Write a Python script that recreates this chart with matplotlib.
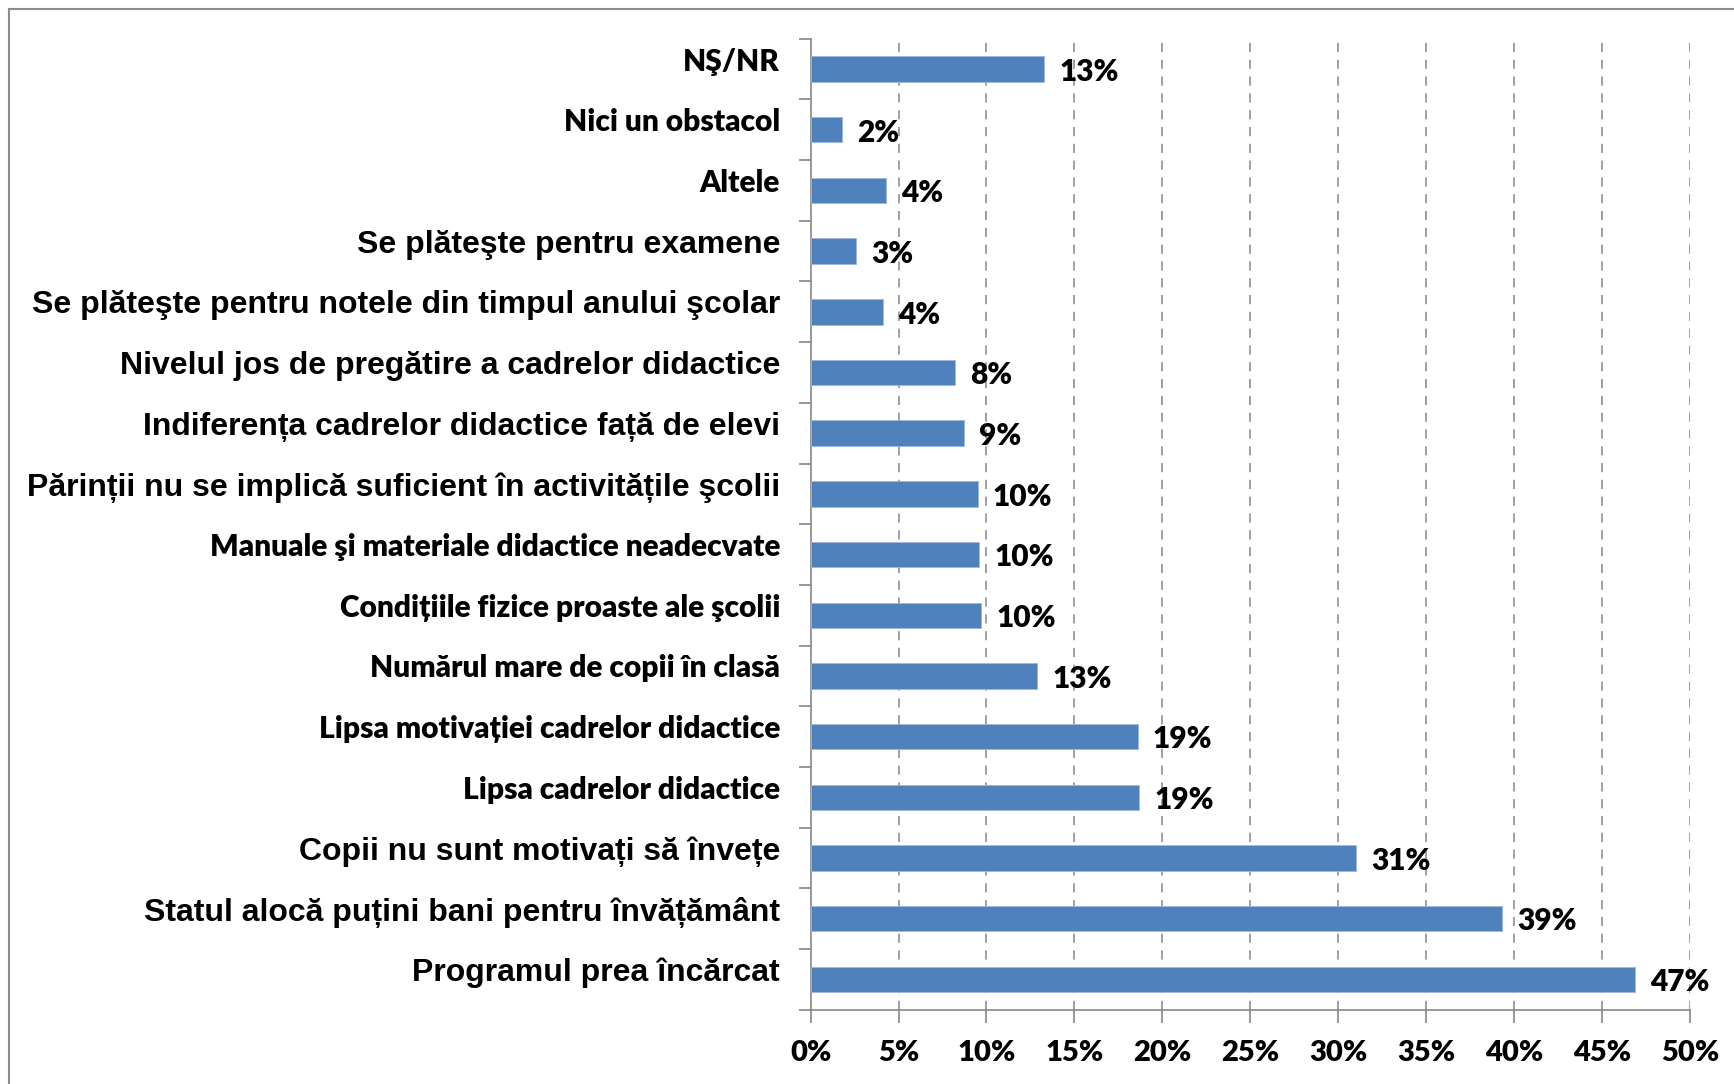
#!/usr/bin/env python3
"""Horizontal bar chart: obstacles in the education system (share of respondents)."""

import matplotlib
matplotlib.use("Agg")
import matplotlib.pyplot as plt
import matplotlib.transforms as mtransforms
from matplotlib.lines import Line2D
from matplotlib.ticker import FixedLocator, FuncFormatter

# categories, top to bottom as in the chart
categories = [
    "NŞ/NR",
    "Nici un obstacol",
    "Altele",
    "Se plăteşte pentru examene",
    "Se plăteşte pentru notele din timpul anului şcolar",
    "Nivelul jos de pregătire a cadrelor didactice",
    "Indiferența cadrelor didactice față de elevi",
    "Părinții nu se implică suficient în activitățile şcolii",
    "Manuale şi materiale didactice neadecvate",
    "Condițiile fizice proaste ale şcolii",
    "Numărul mare de copii în clasă",
    "Lipsa motivației cadrelor didactice",
    "Lipsa cadrelor didactice",
    "Copii nu sunt motivați să învețe",
    "Statul alocă puțini bani pentru învățământ",
    "Programul prea încărcat",
]
values = [13.3, 1.8, 4.3, 2.6, 4.1, 8.2, 8.7, 9.5, 9.6, 9.7, 12.9, 18.6, 18.7, 31.0, 39.3, 46.9]
x_ticks = [0, 5, 10, 15, 20, 25, 30, 35, 40, 45, 50]

# labels that the source draws in the larger Arial-like face
wide_labels = {3, 4, 5, 6, 7, 13, 14, 15}

BAR = "#4F81BD"
GRID = "#868686"
ARIAL = ["Liberation Sans", "DejaVu Sans"]
HUMAN = ["Lato", "DejaVu Sans"]

fig = plt.figure(figsize=(17.34, 10.84), dpi=100)
ax = fig.add_axes([0.4675, 0.0685, 0.9745 - 0.4675, 0.9643 - 0.0685])

ypos = list(range(len(categories)))
ax.barh(ypos, values, height=0.42, color=BAR, edgecolor="#9DB9DE", linewidth=0.6, zorder=3)

ax.set_xlim(0, 50)
ax.set_ylim(len(categories) - 0.5, -0.5)

# x axis
ax.xaxis.set_major_locator(FixedLocator(x_ticks))
ax.xaxis.set_major_formatter(FuncFormatter(lambda v, _: f"{v:.0f}%"))
ax.tick_params(axis="x", direction="out", length=9, width=1.2, color=GRID, pad=13)
for lab in ax.get_xticklabels():
    lab.set_family(HUMAN)
    lab.set_fontweight("heavy")
    lab.set_fontsize(21)
for x in x_ticks[1:]:
    ax.axvline(x, color=GRID, linewidth=1.1, linestyle=(0, (6, 5)), zorder=1)

# y axis: ticks at category boundaries, labels at bar centres
ax.yaxis.set_major_locator(FixedLocator(ypos))
ax.yaxis.set_minor_locator(FixedLocator([i - 0.5 for i in range(len(categories) + 1)]))
ax.set_yticklabels(categories)
ax.tick_params(axis="y", which="major", length=0, pad=22)
ax.tick_params(axis="y", which="minor", direction="out", length=9, width=1.2, color=GRID)
shift = mtransforms.ScaledTranslation(0, 10 / 100, fig.dpi_scale_trans)
for i, lab in enumerate(ax.get_yticklabels()):
    if i in wide_labels:
        lab.set_family(ARIAL)
        lab.set_fontsize(23)
        lab.set_fontweight("bold")
    else:
        lab.set_family(HUMAN)
        lab.set_fontsize(21.5)
        lab.set_fontweight("heavy")
    lab.set_transform(lab.get_transform() + shift)

for spine in ["top", "right"]:
    ax.spines[spine].set_visible(False)
ax.spines["left"].set_color(GRID)
ax.spines["bottom"].set_color(GRID)
ax.spines["left"].set_linewidth(1.2)
ax.spines["bottom"].set_linewidth(1.2)

# value labels
for y, v in zip(ypos, values):
    ax.annotate(f"{v:.0f}%", xy=(v, y), xytext=(11, -2), textcoords="offset points",
                ha="left", va="center", fontsize=21.5, fontweight="heavy", family=HUMAN)

# chart-area frame (top and left edges visible)
fig.add_artist(Line2D([9 / 1734, 1], [1 - 9 / 1084] * 2, transform=fig.transFigure,
                      color="#8C8C8C", linewidth=1.5))
fig.add_artist(Line2D([9 / 1734] * 2, [0, 1 - 9 / 1084], transform=fig.transFigure,
                      color="#8C8C8C", linewidth=1.5))

fig.savefig("out.png", dpi=100, facecolor="white")
